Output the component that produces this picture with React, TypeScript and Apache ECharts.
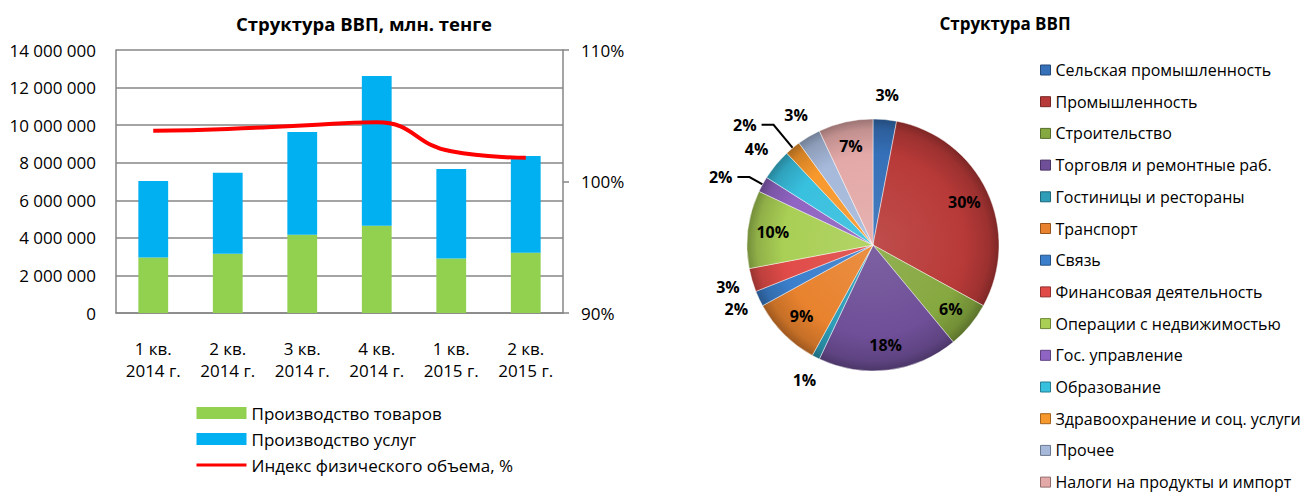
import React, { useEffect, useRef } from "react";
import * as echarts from "echarts";

// ---- Bar / line chart data ----
const categories = ["1 кв.\n2014 г.", "2 кв.\n2014 г.", "3 кв.\n2014 г.", "4 кв.\n2014 г.", "1 кв.\n2015 г.", "2 кв.\n2015 г."];
const goods = [2960000, 3150000, 4160000, 4640000, 2900000, 3210000];
const services = [4070000, 4310000, 5480000, 7970000, 4770000, 5150000];
const volumeIndex = [103.85, 104.0, 104.25, 104.5, 102.3, 101.8];
const leftTicks = { min: 0, max: 14000000, interval: 2000000 };
const rightTicks = { min: 90, max: 110, interval: 10 };

// ---- Pie data ----
const pieNames = [
  "Сельская промышленность",
  "Промышленность",
  "Строительство",
  "Торговля и ремонтные раб.",
  "Гостиницы и рестораны",
  "Транспорт",
  "Связь",
  "Финансовая деятельность",
  "Операции с недвижимостью",
  "Гос. управление",
  "Образование",
  "Здравоохранение и соц. услуги",
  "Прочее",
  "Налоги на продукты и импорт",
];
const pieValues = [3, 30, 6, 18, 1, 9, 2, 3, 10, 2, 4, 2, 3, 7];
const pieColors = [
  "#3570B8", "#B83A38", "#86A840", "#6F4F98", "#2E9DB8", "#E8822E", "#3B7FCC",
  "#E04B48", "#A9CF55", "#9064C2", "#38C0DF", "#F7982C", "#A6B9DA", "#E3A9A8",
];
// label placement groups
const innerLabelNames = ["Промышленность", "Строительство", "Торговля и ремонтные раб.", "Транспорт", "Операции с недвижимостью", "Налоги на продукты и импорт"];
const leaderLabelNames = ["Гос. управление", "Здравоохранение и соц. услуги"];

const FONT = '"Open Sans", "Noto Sans", sans-serif';
const GRID = "#868686";
const PIE_CX = 873;
const PIE_CY = 245;
const PIE_R = 126;

function shade(hex: string, f: number): string {
  const n = parseInt(hex.slice(1), 16);
  let r = (n >> 16) & 255, g = (n >> 8) & 255, b = n & 255;
  if (f >= 0) {
    r = r + (255 - r) * f; g = g + (255 - g) * f; b = b + (255 - b) * f;
  } else {
    r = r * (1 + f); g = g * (1 + f); b = b * (1 + f);
  }
  return `rgb(${Math.round(r)},${Math.round(g)},${Math.round(b)})`;
}

function grad(c: string) {
  return {
    type: "radial",
    x: PIE_CX,
    y: PIE_CY,
    r: PIE_R,
    global: true,
    colorStops: [
      { offset: 0, color: shade(c, 0.1) },
      { offset: 0.72, color: c },
      { offset: 0.92, color: shade(c, -0.15) },
      { offset: 1, color: shade(c, -0.32) },
    ],
  };
}

const fmtNum = (v: number) => String(v).replace(/\B(?=(\d{3})+(?!\d))/g, " ");
const pct = (p: any) => Math.round(p.percent) + "%";

export default function App() {
  const ref = useRef<HTMLDivElement>(null);
  useEffect(() => {
    if (!ref.current) return;
    const chart = echarts.init(ref.current, undefined, { renderer: "svg" });
    const axisLineStyle = { color: GRID, width: 1.5 };
    const labelBase = { fontFamily: FONT, fontSize: 16, fontWeight: "bold", color: "#000" };

    const option: any = {
      animation: false,
      textStyle: { fontFamily: FONT },
      title: [
        { text: "Структура ВВП, млн. тенге", left: 359, top: 9, textAlign: "center", textStyle: { fontFamily: FONT, fontSize: 18.5, fontWeight: "bold", color: "#000" } },
        { text: "Структура ВВП", left: 1000, top: 10, textAlign: "center", textStyle: { fontFamily: FONT, fontSize: 17, fontWeight: "bold", color: "#000" } },
      ],
      legend: [
        {
          orient: "vertical",
          left: 190,
          top: 398,
          itemWidth: 50,
          itemHeight: 12,
          itemGap: 6,
          textStyle: { fontFamily: FONT, fontSize: 17, color: "#000", lineHeight: 20 },
          data: [
            { name: "Производство товаров", icon: "rect" },
            { name: "Производство услуг", icon: "rect" },
            { name: "Индекс физического объема, %", itemStyle: { color: "rgba(0,0,0,0)", borderWidth: 0 }, lineStyle: { width: 3 } },
          ],
        },
        {
          orient: "vertical",
          left: 1035,
          top: 56,
          height: 480,
          itemWidth: 10,
          itemHeight: 10,
          itemGap: 13.7,
          textStyle: { fontFamily: FONT, fontSize: 16, color: "#000", lineHeight: 18 },
          data: pieNames.map((n, i) => ({
            name: n,
            icon: "rect",
            itemStyle: { color: pieColors[i], borderColor: shade(pieColors[i], -0.35), borderWidth: 1 },
          })),
        },
      ],
      grid: { left: 116, top: 50, width: 447, height: 263 },
      xAxis: {
        type: "category",
        data: categories,
        axisLine: { lineStyle: axisLineStyle },
        axisTick: { show: false },
        axisLabel: { fontFamily: FONT, fontSize: 17, lineHeight: 22, margin: 24, color: "#000", interval: 0 },
      },
      yAxis: [
        {
          type: "value",
          ...leftTicks,
          axisLine: { show: true, lineStyle: axisLineStyle },
          axisTick: { show: false },
          splitLine: { lineStyle: { color: GRID, width: 1.5 } },
          axisLabel: { formatter: fmtNum, fontFamily: FONT, fontSize: 17, color: "#000", margin: 20 },
        },
        {
          type: "value",
          position: "right",
          ...rightTicks,
          axisLine: { show: true, lineStyle: axisLineStyle },
          axisTick: { show: true, length: 6, lineStyle: axisLineStyle },
          splitLine: { show: false },
          axisLabel: { formatter: "{value}%", fontFamily: FONT, fontSize: 17, color: "#000", margin: 18 },
        },
      ],
      series: [
        {
          name: "Производство товаров",
          type: "bar",
          stack: "gdp",
          data: goods,
          barWidth: "40%",
          itemStyle: { color: "#92D050" },
        },
        {
          name: "Производство услуг",
          type: "bar",
          stack: "gdp",
          data: services,
          barWidth: "40%",
          itemStyle: { color: "#00B0F0" },
        },
        {
          name: "Индекс физического объема, %",
          type: "line",
          yAxisIndex: 1,
          data: volumeIndex,
          smooth: true,
          symbol: "none",
          lineStyle: { color: "#FF0000", width: 4 },
          itemStyle: { color: "#FF0000" },
        },
        {
          name: "pie-main",
          type: "pie",
          center: [PIE_CX, PIE_CY],
          radius: [0, PIE_R],
          startAngle: 90,
          clockwise: true,
          avoidLabelOverlap: false,
          label: { ...labelBase, position: "outside", formatter: pct },
          labelLine: { lineStyle: { color: "#000", width: 2 } },
          emphasis: { disabled: true },
          data: pieNames.map((n, i) => {
            const lead = leaderLabelNames.includes(n);
            return {
              name: n,
              value: pieValues[i],
              itemStyle: { color: grad(pieColors[i]), borderColor: "rgba(255,255,255,0.45)", borderWidth: 1 },
              label: { show: lead },
              labelLine: { show: lead, length: n === "Гос. управление" ? 15 : 30, length2: 12 },
            };
          }),
        },
        {
          name: "pie-inner-labels",
          type: "pie",
          silent: true,
          center: [PIE_CX, PIE_CY],
          radius: [70, PIE_R],
          startAngle: 90,
          clockwise: true,
          avoidLabelOverlap: false,
          label: { ...labelBase, position: "inside", formatter: pct },
          labelLine: { show: false },
          itemStyle: { color: "rgba(0,0,0,0)" },
          data: pieNames.map((n, i) => ({
            name: n,
            value: pieValues[i],
            label: { show: innerLabelNames.includes(n) },
          })),
        },
        {
          name: "pie-outer-labels",
          type: "pie",
          silent: true,
          center: [PIE_CX, PIE_CY],
          radius: [PIE_R, 170],
          startAngle: 90,
          clockwise: true,
          avoidLabelOverlap: false,
          label: { ...labelBase, position: "inside", formatter: pct },
          labelLine: { show: false },
          itemStyle: { color: "rgba(0,0,0,0)" },
          data: pieNames.map((n, i) => ({
            name: n,
            value: pieValues[i],
            label: { show: !innerLabelNames.includes(n) && !leaderLabelNames.includes(n) },
          })),
        },
      ],
    };
    chart.setOption(option);
    return () => chart.dispose();
  }, []);
  return <div ref={ref} style={{ position: "absolute", left: 0, top: 0, width: 1303, height: 495 }} />;
}
